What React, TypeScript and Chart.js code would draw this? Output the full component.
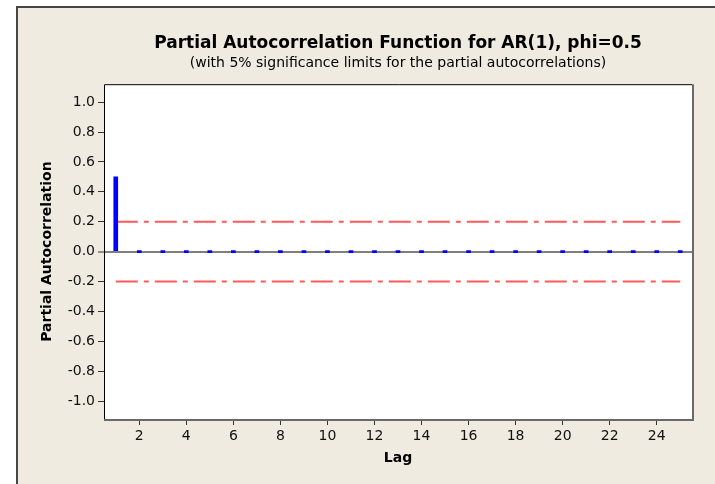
import React, { useEffect, useRef } from "react";
import { Chart, registerables } from "chart.js";

Chart.register(...registerables);

// ---- data ----
const lags = [1, 2, 3, 4, 5, 6, 7, 8, 9, 10, 11, 12, 13, 14, 15, 16, 17, 18, 19, 20, 21, 22, 23, 24, 25];
const pacfValues = [0.5, 0, 0, 0, 0, 0, 0, 0, 0, 0, 0, 0, 0, 0, 0, 0, 0, 0, 0, 0, 0, 0, 0, 0, 0];
const upperLimit = 0.2;
const lowerLimit = -0.2;
const limitLags = [1, 25];
const yTickValues = [-1.0, -0.8, -0.6, -0.4, -0.2, 0.0, 0.2, 0.4, 0.6, 0.8, 1.0];
const xTickValues = [2, 4, 6, 8, 10, 12, 14, 16, 18, 20, 22, 24];
const titleText = "Partial Autocorrelation Function for AR(1), phi=0.5";
const subtitleText = "(with 5% significance limits for the partial autocorrelations)";
const yAxisTitle = "Partial Autocorrelation";
const xAxisTitle = "Lag";

const FONT = "'DejaVu Sans', sans-serif";
const BEIGE = "#EFEBE1";

const backgroundPlugin = {
  id: "bgFrame",
  beforeDraw(chart: any) {
    const { ctx, width, height, chartArea } = chart;
    ctx.save();
    ctx.fillStyle = "#FFFFFF";
    ctx.fillRect(0, 0, width, height);
    ctx.fillStyle = BEIGE;
    ctx.fillRect(17, 7, width - 17, height - 7);
    ctx.fillStyle = "#454545";
    ctx.fillRect(16, 6, width - 16, 2);
    ctx.fillRect(16, 6, 2, height - 6);
    ctx.fillStyle = "#FFFFFF";
    ctx.fillRect(chartArea.left, chartArea.top, chartArea.right - chartArea.left, chartArea.bottom - chartArea.top);
    ctx.restore();
  },
  afterDraw(chart: any) {
    const { ctx, chartArea } = chart;
    const { left, top, right, bottom } = chartArea;
    ctx.save();
    ctx.strokeStyle = "#000000";
    ctx.lineWidth = 1;
    ctx.beginPath();
    ctx.moveTo(left + 0.5, bottom);
    ctx.lineTo(left + 0.5, top + 0.5);
    ctx.lineTo(right, top + 0.5);
    ctx.stroke();
    ctx.strokeStyle = "#6A6A6A";
    ctx.lineWidth = 2;
    ctx.beginPath();
    ctx.moveTo(right + 1, top);
    ctx.lineTo(right + 1, bottom + 1);
    ctx.lineTo(left, bottom + 1);
    ctx.stroke();
    ctx.restore();
  },
};

export default function App() {
  const canvasRef = useRef<HTMLCanvasElement | null>(null);

  useEffect(() => {
    document.body.style.margin = "0";
    const canvas = canvasRef.current;
    if (!canvas) return;

    const chart = new Chart(canvas, {
      type: "bar",
      data: {
        datasets: [
          {
            type: "bar",
            data: lags.map((l, i) => ({ x: l, y: pacfValues[i] })),
            backgroundColor: "#0000FF",
            borderWidth: 0,
            barThickness: 4,
            minBarLength: 2,
            order: 0,
          } as any,
          {
            type: "line",
            data: limitLags.map((l) => ({ x: l, y: upperLimit })),
            borderColor: "#FF5A5A",
            borderWidth: 2,
            borderDash: [22, 6, 5, 6],
            pointRadius: 0,
            fill: false,
            order: 1,
          } as any,
          {
            type: "line",
            data: limitLags.map((l) => ({ x: l, y: lowerLimit })),
            borderColor: "#FF5A5A",
            borderWidth: 2,
            borderDash: [22, 6, 5, 6],
            pointRadius: 0,
            fill: false,
            order: 1,
          } as any,
        ],
      },
      options: {
        responsive: false,
        animation: false,
        devicePixelRatio: 1,
        layout: { padding: { left: 0, right: 23, top: 0, bottom: 0 } },
        plugins: {
          legend: { display: false },
          tooltip: { enabled: false },
          title: {
            display: true,
            text: titleText,
            fullSize: false,
            color: "#000000",
            font: { family: FONT, size: 17, weight: "bold" },
            padding: { top: 33, bottom: 0 },
          },
          subtitle: {
            display: true,
            text: subtitleText,
            fullSize: false,
            color: "#000000",
            font: { family: FONT, size: 14, weight: "normal" },
            padding: { top: 2, bottom: 12 },
          },
        },
        scales: {
          x: {
            type: "linear",
            min: 0.5,
            max: 25.5,
            offset: false,
            afterBuildTicks: (scale: any) => {
              scale.ticks = xTickValues.map((v) => ({ value: v }));
            },
            afterFit: (scale: any) => {
              scale.height = 65;
            },
            grid: {
              offset: false,
              drawOnChartArea: false,
              drawTicks: true,
              tickLength: 6,
              tickColor: "#333333",
              tickWidth: 1,
            },
            border: { display: false },
            ticks: {
              color: "#111111",
              font: { family: FONT, size: 14 },
              padding: 3,
              maxRotation: 0,
              autoSkip: false,
              callback: (v: any) => String(v),
            },
            title: {
              display: true,
              text: xAxisTitle,
              color: "#000000",
              font: { family: FONT, size: 14, weight: "bold" },
              padding: { top: 0, bottom: 17 },
            },
          },
          y: {
            type: "linear",
            min: -1.12,
            max: 1.12,
            afterBuildTicks: (scale: any) => {
              scale.ticks = yTickValues.map((v) => ({ value: v }));
            },
            afterFit: (scale: any) => {
              scale.width = 104;
            },
            grid: {
              drawOnChartArea: true,
              drawTicks: true,
              tickLength: 6,
              tickColor: "#333333",
              tickWidth: 1,
              color: (ctx: any) => (ctx.tick && ctx.tick.value === 0 ? "#7F7F7F" : "rgba(0,0,0,0)"),
              lineWidth: (ctx: any) => (ctx.tick && ctx.tick.value === 0 ? 2 : 1),
            },
            border: { display: false },
            ticks: {
              color: "#111111",
              font: { family: FONT, size: 14 },
              padding: 3,
              autoSkip: false,
              callback: (v: any) => Number(v).toFixed(1),
            },
            title: {
              display: true,
              text: yAxisTitle,
              color: "#000000",
              font: { family: FONT, size: 14, weight: "bold" },
              padding: { top: 39, bottom: 0 },
            },
          },
        },
      },
      plugins: [backgroundPlugin],
    } as any);

    return () => {
      chart.destroy();
    };
  }, []);

  return (
    <div style={{ width: 715, height: 484 }}>
      <canvas ref={canvasRef} width={715} height={484} style={{ display: "block", width: 715, height: 484 }} />
    </div>
  );
}
